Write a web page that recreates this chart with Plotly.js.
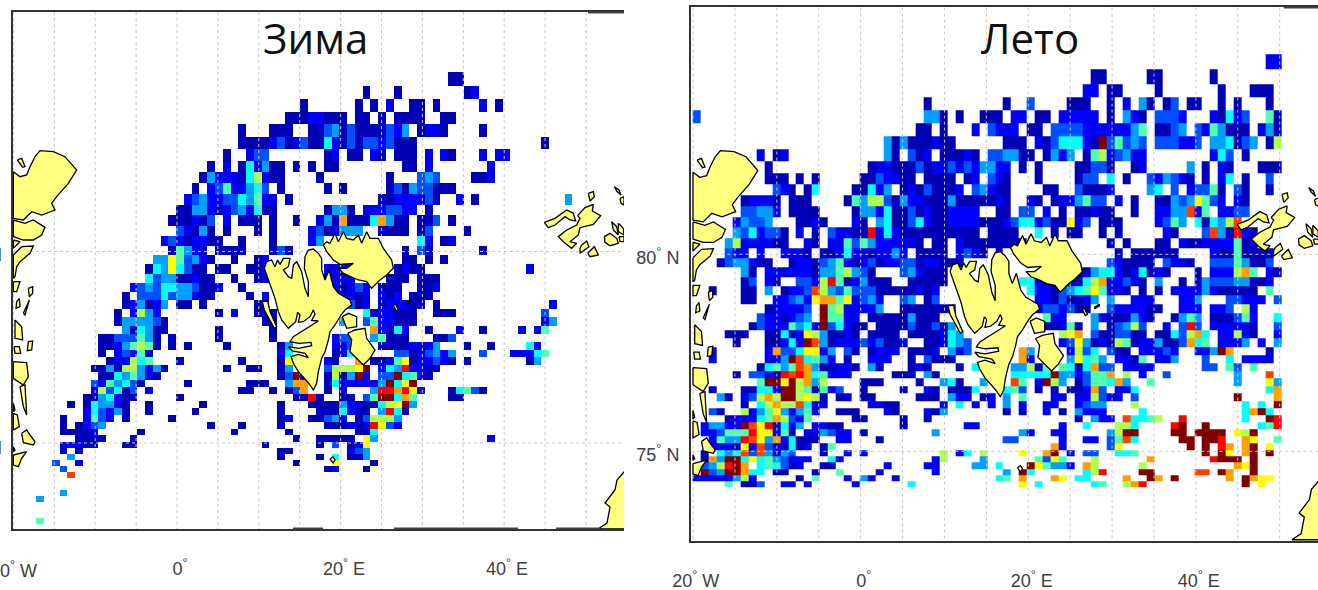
<!DOCTYPE html>
<html><head><meta charset="utf-8">
<script src="https://cdn.plot.ly/plotly-3.0.1.min.js"></script>
<style>html,body{margin:0;padding:0;background:#fff}#c{width:1318px;height:590px}</style></head>
<body><div id="c"></div>
<script>
// Each row: "column:codes" runs. Codes 0-9,a,b are jet colour levels.
const winterRows = ["",
"56:00",
"45:0 49:0 58:01",
"37:0 44:0 46:0 48:1 51:00 54:0 60:1 62:0",
"35:00011 40:000 44:00 47:0 49:0000 55:00",
"29:0 33:000 38:00 40:23020000 48:213 52:0 53:110 60:0",
"29:00001201200 40:410202212000 68:0",
"27:0 30:122 40:01 43:00 46:10 49:000 53:1 55:10 60:1 62:11",
"25:0 27:1 29:0413 33:00 36:0 38:0 40:00 50:00 53:1 61:1",
"24:03111046100 39:0 48:0 52:232 59:001",
"23:0 25:12511342 34:0 40:0 42:0 48:020322000",
"22:123112243511 35:0 47:00111 52:120 57:1 59:0 71:3",
"21:00 23:33 25:10 27:1231400 40:0330 45:1112211 53:0",
"20:000 23:1 24:0 25:2 27:1 29:000 33:0 36:0 39:1 40:3 41:0 42:8 43:0 44:00 46:48 48:3 49:00 52:002 56:0",
"21:21030 27:0 31:0 33:0 38:120 41:1 42:333 47:0000 52:02 58:0",
"19:12101100 29:0 33:0 38:13 52:41 55:01",
"20:05310 26:0000 33:020 50:0 52:20 60:0",
"18:33 20:752310 28:0 31:01 50:00 53:0 55:0",
"17:04374200 26:00 30:001 40:1111 49:0100 66:1",
"17:423300100 28:0 31:01 40:0111 48:000 52:000",
"15:123244332001 29:0 41:101 44:21 47:000 52:001",
"14:0 16:2224233100 30:0 32:1 41:011 44:01 47:101 51:000",
"14:013013 21:00 24:0 31:00 42:02 44:01 47:0111 51:00 54:0 69:1",
"13:0 15:1631 26:0 28:1 31:000 45:4011000 54:000 68:2",
"13:0333320 32:00 42:3 45:2511000 68:13",
"14:304300 26:0 33:0 46:8 47:10 49:41 53:0 57:1 60:0 65:1 67:15",
"11:00222530 20:0 26:0 33:0 41:122 44:3 46:35 48:000 54:002",
"11:00135650 20:0 22:0 27:0 34:03 41:112 47:0 48:000 51:1113 58:0 61:0 66:41",
"11:0 13:12150 34:14 41:014 49:22 51:0123 55:13 60:2 64:11145",
"12:011645 21:0 29:0 34:07 40:10 44:8 46:001570 52:1121 56:0 58:0 66:03",
"10:0030663130 27:0 30:00 34:03 40:2 41:666 44:7b 47:143a 51:1100",
"11:00435310 34:02b1 40:06 42:03b1 47:22 49:b45 52:10",
"10:21 12:5 13:34 15:20 22:0 30:000 35:388 40:04 42:1111 46:13b47b",
"10:162402 17:1 29:00 33:0 35:028 40:0 42:1 46:3aa8a71 56:04520",
"9:0034100 21:0 36:00a0 42:00 45:25bb485 56:00",
"7:0 9:043310 17:0 24:0 34:0 38:00003110 46:0467b3",
"9:142130 17:0 23:0 34:0 39:000 42:4 43:1 44:00 47:3a40",
"6:0 9:1521 14:0 20:0 34:01 38:00231 44:02666 49:3",
"6:0 8:0123 25:0 29:0 34:0 40:0001 44:01 46:a721",
"6:00001 16:0 28:0 35:0 44:00 46:4",
"8:0000 15:0 36:0 39:00000 45:73 61:1",
"6:11100 14:00 32:0 39:0 41:2 43:01 45:7",
"6:0 8:0 34:00 43:123",
"7:3 34:0 39:0 41:4 43:00 45:3",
"5:2 8:1 36:0 41:7 46:0",
"6:2 40:01 45:0",
"7:9","","",
"6:3",
"3:3","","","",
"3:5"];
const summerRows = [
"72:11",
"50:00 57:00 65:0",
"49:11 52:00 58:0 66:0 70:000",
"29:0 39:0 42:2 47:000 52:0 54:1 56:30 59:02 62:00 66:0 68:0 72:0",
"0:2 29:330 33:0 36:000 40:11 43:00 46:11111 52:0 54:310 58:2221 65:10 67:412 72:50",
"28:00 31:0 35:1 37:2 38:111 42:00 45:2222 49:111111 55:35 58:00 60:23 63:2 64:1 65:53 67:000 71:130",
"24:303 27:000100 39:000 43:102 46:444 49:10b25232 58:222 61:11 63:2 65:334 68:023 72:06",
"8:1 10:01 24:30 27:201 31:00 33:010 37:22 39:3300 44:0313 49:056123 55:11 65:142 69:0",
"9:0 22:011000201121213311 41:0 43:0 48:00 50:22 52:0 55:01 62:3 64:0 66:10 71:000",
"9:000 13:0 15:0 21:002 24:11 26:00 29:0000 34:01 37:21 39:0 43:0 48:022 52:4 54:0 57:213210 64:0 66:14 69:0 72:2",
"10:2 11:10 14:04 20:0041 24:3 26:0 27:10 29:2 30:000 33:1 35:231 38:00 44:00 48:2 49:0001 57:34 60:2 62:122 65:50 68:20 72:0",
"6:01110 12:000 19:05366203110003000001 39:0 42:10 45:0 46:11 48:35 50:22 53:1 55:0 58:00 60:3237521 68:10",
"6:2 7:2331 12:0000 20:0 21:33 23:1 24:4 25:00 27:2 28:01 30:00 32:11 34:11 38:00 41:22 44:1 46:0 48:00100 55:0 58:11 60:33 62:9 63:15 66:11 68:22",
"5:13223 13:00 15:10 20:10 23:340024100111100 38:012441200712 51:000 58:1253 63:404369",
"5:3241220 13:1 15:0 17:21100a1410 27:000000000 37:000 39:00 43:4 45:0 47:00 51:0 53:0 59:10 64:293 67:0a 69:10",
"4:36111100 14:10 17:11 19:5253 23:11111 28:0 30:00 33:10000 38:0000 52:0 54:0 58:00 61:1 62:0 63:0 64:1 65:11 67:1 68:5 69:01",
"4:211 8:1 11:1110 16:0014 20:1101 24:131 28:0000 33:1210 38:0 53:0 55:000 58:000 65:100 68:5 69:0000",
"3:0233100 12:0110235101201122011000 52:210000 59:2110 65:2225 69:300 72:2",
"6:30 9:1111110 16:3356320 26:231000 48:003441014010 63:0 65:111 68:685 72:10",
"6:02 9:10 13:221 16:6a501 21:3 22:000 27:0000 31:0 41:44 43:100000 49:46811210 58:3 61:0 63:03 65:222 68:33 70:00 72:1",
"2:0 6:00 9:3 11:0112 15:96325222 23:0000000 30:1 28:10 42:41102 47:34575110 56:0 58:0 60:1111 64:31 66:0000 70:0 72:5",
"6:00 10:112 13:31 15:788571231 26:23 29:02 43:1 44:102 47:001 50:3 52:3 55:111 61:113 67:22111 73:2",
"9:011112 16:b56111 22:13 26:0000000 43:1 44:2212 48:00 52:21111 57:00 61:111 65:111 67:2 69:61",
"8:2110123 16:b5511 22:00000 27:3 28:000 44:511 50:31000310 60:0 61:353 65:000 68:251 73:4",
"7:021115341b24100 23:00002 28:00 30:2 31:03 44:001 47:50 50:3 52:02362 59:1 61:2a2 65:111 68:110 73:2",
"4:000 9:00 11:4 12:01 14:7 15:630010 22:0000 27:0000 31:143 46:678 50:2002200 58:00 60:42684 66:11 68:610 73:1",
"5:0 9:00 11:141b93 17:0111212001 29:00 31:1 32:43 34:2 46:127 49:3 50:010 53:65 55:011 58:3 59:00 61:2845 66:111 69:3 71:1 73:3",
"2:1 9:182247713 19:20 22:0111 27:000 30:1 32:312 41:83 47:162 50:4 52:2 53:00 56:11121 63:113b8 72:0",
"2:1 9:113b94531 19:0 22:111 27:0 29:2 30:000 41:81 47:37453 53:1105 58:113 64:2 67:4 69:1111",
"8:04535983 16:00110 22:30 27:010 33:0 35:4 40:33605 46:5404822 54:1111 64:22 67:52 70:5",
"5:0 7:2210a9a845111 25:000 29:30 40:44444b3312558 54:6 56:1 59:2 68:3 72:9",
"8:5bb7b6836 21:000 28:0 31:340 36:3 40:95 43:1b63 48:0255483 57:5 68:3 72:73",
"2:0 6:00 8:441bb650512 21:0 26:0 29:10 32:000 35:4 39:452 43:0 45:0 47:00 49:182 53:114 72:48",
"3:30 6:12 8:686bb6760 18:01 21:00 28:000 32:311 36:01 39:3 41:5 45:11 48:11 50:62 52:11 55:2 68:b 73:8",
"6:0 8:468669411 22:1100 31:1 33:4 35:1 37:1 39:3 41:1 44:11 48:1233 55:6 69:4 71:4 73:b",
"2:20 6:6135731351 18:000 24:10 29:103 39:0 41:0 44:1 46:0 48:3111 56:4 69:48b4",
"4:01114586215 20:00 26:0 29:0 48:0 50:311 54:94456 61:a 69:4 72:ba",
"1:13311b97a0413 15:1100 26:0 34:11 46:1 49:4 53:664 60:ab 64:b 71:45a",
"1:112555a77150 14:113211 21:0 30:3 41:31 45:11 52:36bb 60:bb 63:bbbb 68:76b",
"2:1533a973814 13:000 18:11 23:0 39:22 46:1 49:11 52:2594 61:bb 64:bba 69:87 73:5",
"2:1110719210401 16:05 45:8 46:1 52:27 62:b 64:b 66:a8 69:8b 72:7",
"1:0 3:4349293032 16:0 19:1 21:1 31:6 33:14 36:6 41:7 44:8b 47:1 49:22 53:445 64:b 66:b7 69:8b 72:b",
"1:083bb474532111 17:41 30:16 36:3 43:5275 50:6 57:8 65:abbb 70:b",
"1:236ab8 8:454201 16:00 24:1 29:11 35:33 38:4 42:b753 46:31 49:8 50:6 56:6 68:87b",
"1:b23bb844 10:00 15:0 18:5 23:1 30:1 39:3 41:b4 49:46a 56:bb 63:99 66:b8 70:b",
"0:11111361 13:0 15:5 19:1 21:31 25:1 38:45 41:8 45:87 48:44 54:8 57:b8 60:b 67:8 69:b877",
"4:5 6:002 11:11 14:1 20:1 27:4 41:7 43:4 50:45 54:68a 69:b 71:7"];
// Row edges along the Mercator map axis (rows get taller to the north)
const rowEdges = [57,71.7,85.7,98.6,111.6,124.3,137,149.3,161,172.3,183.3,194.3,205,215.2,225.5,235.7,245.5,255,264.3,273.7,282.7,291.7,300.3,309,317.3,325.7,333.5,341.7,349.7,357.3,365,372.3,379.7,387,394.3,401.3,408.3,415,422,428.7,435.3,441.7,447.7,454,460,466.3,472.3,478.3,484,490,496,502,507.5,513,518.4,524];
const levelColors = ["#0000b4","#0000ff","#0050ff","#00a0ff","#00ffff","#50ffb0","#b0ff50","#ffff00","#ffa000","#ff4000","#ff0000","#800000"];
const lonTicks = [16,180,344,507];
const lonLabels = ["20<sup>°</sup> W","0<sup>°</sup>","20<sup>°</sup> E","40<sup>°</sup> E"];
const latTicks = [254.5,446];
const latLabels = ["80<sup>°</sup> N","75<sup>°</sup> N"];
const meridians = [13.4,54.3,95.2,136.1,177,217.9,258.8,299.7,340.6,381.5,422.4,463.3,504.2,545.1,586];
const parallels = [251.5,443];
const titles = ["Зима","Лето"];
const svalbard = [
 [28,130,35,110,50,105,60,125,68,105,75,118,85,100,105,100,100,125,85,135,100,155,110,160,115,120,125,110,140,140,150,190,160,215,160,170,148,130,150,95,160,75,175,72,190,85,200,100,200,135,210,165,222,135,235,185,250,205,268,215,285,225,290,240,270,255,258,270,250,285,240,300,225,320,220,345,210,380,200,400,190,440,185,475,175,495,165,480,150,462,130,440,115,415,108,395,130,388,160,398,150,385,112,378,100,365,130,370,170,362,168,352,132,355,105,350,115,335,150,312,190,288,170,286,180,268,175,255,165,275,145,290,130,292,135,270,128,262,122,290,100,310,80,285,70,260,60,220,50,190,40,165],
 [22,230,38,228,45,260,65,305,58,310,40,275,28,255],
 [205,60,215,50,225,55,240,25,250,50,265,20,275,40,295,45,310,30,320,55,335,20,345,40,370,40,385,70,410,105,415,130,395,150,375,165,350,190,335,170,310,165,290,155,265,145,250,130,275,130,295,115,255,118,235,105,215,80],
 [262,275,280,265,305,275,305,305,275,310],
 [278,325,300,315,330,310,335,340,360,375,345,400,325,420,300,395,285,380,290,345],
 [415,240,422,238,430,255,424,258],
 [450,234,465,225,465,230,452,238]
];
const westCoast = [
 [10,95,30,110,50,105,60,80,75,50,90,32,130,35,165,50,200,90,175,130,140,170,125,190,135,210,95,225,65,215,40,240,10,235],
 [10,240,45,250,70,240,105,262,95,285,70,300,40,300,10,290],
 [10,300,30,305,10,325],
 [10,345,35,320,70,318,60,340,30,365,20,380,15,410,10,415],
 [22,60,35,55,45,80,38,82],
 [55,445,68,440,68,460,58,470],
 [20,485,28,475,30,500,18,505],
 [10,425,30,425,20,455,10,455],
 [40,520,58,480,45,525],
 [15,540,35,560,38,600,15,595],
 [12,620,28,620,32,640,15,640],
 [55,605,68,603,65,630,52,632],
 [10,665,50,668,55,710,40,735,10,715],
 [30,740,45,735,50,825,40,800],
 [10,790,15,810,10,815],
 [10,820,22,825,28,860,10,870],
 [35,880,50,870,60,885,75,905,70,915,40,908],
 [10,920,15,930,10,935],
 [10,945,35,940,50,935,35,955,25,980,10,975]
];
const franzJosef = [
 [28,112,60,100,95,75,115,85,122,108,105,105,90,95,60,120,40,128],
 [128,92,150,68,175,58,172,78,197,92,175,118,135,128,130,150,105,170,125,175,110,190,90,175,70,155,95,135,125,120,135,100],
 [140,180,155,168,162,185,150,195,135,205,135,190],
 [158,205,178,185,190,210,165,215],
 [208,155,225,145,245,160,250,175,225,182,210,172],
 [160,25,175,20,178,35,165,48],
 [230,110,245,125,250,150,235,135],
 [250,115,265,130,267,150,250,140],
 [255,40,267,35,267,60,258,55],
 [252,155,267,155,267,170,255,170],
 [238,5,252,15,258,30,245,18]
];
const smallLand = [
 [330,459,333,457,335,460,333,463],
 [598,529,607,523,610,507,605,503,615,490,617,480,624,472,640,472,640,529]
];

function grid(rows){
  const cols = 75, z = rows.map(()=>new Array(cols).fill(null));
  rows.forEach((r,i)=>{ r.split(" ").filter(Boolean).forEach(seg=>{
    const [k,codes] = seg.split(":");
    [...codes].forEach((ch,j)=>{ z[i][+k+j] = parseInt(ch,12); });
  });});
  return z;
}
const colEdges = Array.from({length:76},(_,k)=>13+7.77*k);
const scale = levelColors.map((c,i)=>[i/11,c]);
const landX=[],landY=[];
function addLand(list,ox,oy,f){
  list.forEach(p=>{
    for(let i=0;i<p.length;i+=2){landX.push(ox+p[i]/f);landY.push(oy+p[i+1]/f);}
    landX.push(ox+p[0]/f,null);landY.push(oy+p[1]/f,null);
  });
}
addLand(svalbard,255,225,3);
addLand(westCoast,10,140,3);
addLand(franzJosef,535,185,3);
addLand(smallLand,0,0,1);
const gridX=[],gridY=[];
meridians.forEach(m=>{gridX.push(m,m,null);gridY.push(0,540,null);});
parallels.forEach(l=>{gridX.push(0,640,null);gridY.push(l,l,null);});

function panel(rows,xa,ya){
  return [
   {type:"heatmap",x:colEdges,y:rowEdges.slice(0,rows.length+1),z:grid(rows),zmin:0,zmax:11,colorscale:scale,showscale:false,xaxis:xa,yaxis:ya,hoverongaps:false},
   {type:"scatter",mode:"lines",x:gridX,y:gridY,xaxis:xa,yaxis:ya,line:{color:"#c8c8c8",width:1,dash:"dot"},hoverinfo:"skip"},
   {type:"scatter",mode:"lines",x:landX,y:landY,xaxis:xa,yaxis:ya,fill:"toself",fillcolor:"#ffff80",line:{color:"#000",width:1.3},hoverinfo:"skip"}
  ];
}
const W=1318,H=590;
const axisFont={family:"Liberation Sans, Arial, sans-serif",size:18,color:"#404040"};
function xAxis(dom,range,anchor,vals,text,len){return {domain:[dom[0]/W,dom[1]/W],range,anchor,tickmode:"array",tickvals:vals,ticktext:text,ticks:"outside",ticklen:len,tickcolor:"rgba(0,0,0,0)",tickfont:axisFont,showgrid:false,zeroline:false,showline:true,mirror:true,linecolor:"#333",linewidth:2};}
function yAxis(dom,range,anchor,vals,text){return {domain:[(H-dom[1])/H,(H-dom[0])/H],range,anchor,tickmode:"array",tickvals:vals,ticktext:text,ticks:"outside",ticklen:6,tickcolor:"rgba(0,0,0,0)",tickfont:axisFont,showgrid:false,zeroline:false,showline:true,linecolor:"#333",linewidth:2};}
const titleFont={family:"Open Sans, Noto Sans, sans-serif",size:42,color:"#111"};
const seg=(x0,x1,y,xr,yr)=>({type:"line",xref:xr,yref:yr,x0,x1,y0:y,y1:y,line:{color:"#444",width:3}});
const note=(px,py,text,font,xanchor)=>({xref:"paper",yref:"paper",x:px/W,y:(H-py)/H,text,showarrow:false,font,xanchor,yanchor:"middle"});
const layout={width:W,height:H,margin:{l:0,r:0,t:0,b:0},paper_bgcolor:"#fff",plot_bgcolor:"#fff",showlegend:false,
 xaxis:xAxis([13,624],[13,624],"y",lonTicks.slice(1),lonLabels.slice(1),22),yaxis:yAxis([12,529],[529,12],"x",[],[]),
 xaxis2:xAxis([691,1318],[11.4,623.4],"y2",lonTicks,lonLabels,22),yaxis2:yAxis([7,541],[530.2,11.1],"x2",latTicks,latLabels),
 annotations:[
  note(315,38,titles[0],titleFont,"center"),
  note(1030,38,titles[1],titleFont,"center"),
  note(13,569,lonLabels[0],axisFont,"center"),
  note(4,253,latLabels[0],axisFont,"right"),
  note(4,446,latLabels[1],axisFont,"right")],
 shapes:[seg(293,323,529,"x","y"),seg(394,518,529,"x","y"),seg(556,600,529,"x","y"),seg(588,624,12,"x","y"),seg(590,623.4,11.1,"x2","y2")]
};
Plotly.newPlot("c",[...panel(winterRows,"x","y"),...panel(summerRows,"x2","y2")],layout,{staticPlot:true,displayModeBar:false});
</script></body></html>
